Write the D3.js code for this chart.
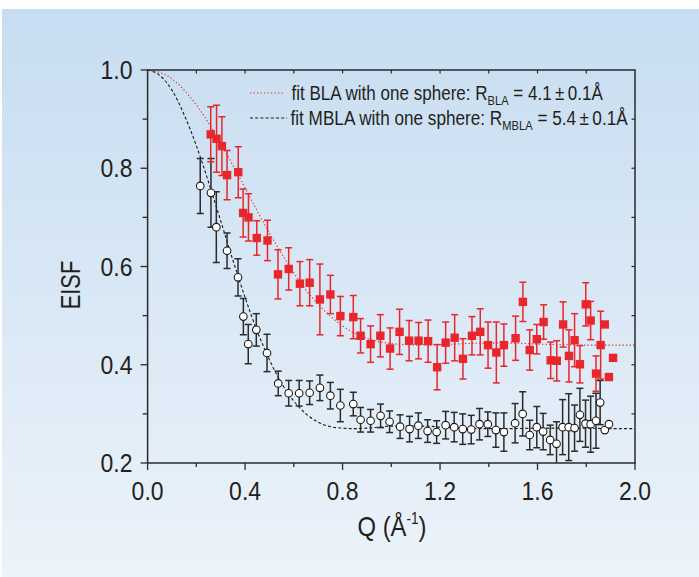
<!DOCTYPE html>
<html>
<head>
<meta charset="utf-8">
<script src="https://cdn.jsdelivr.net/npm/d3@7"></script>
<style>
  html, body { margin: 0; padding: 0; background: #ffffff; }
  svg { display: block; }
  text { font-family: "Liberation Sans", Arial, Helvetica, sans-serif; fill: #231f20; }
</style>
</head>
<body>
<svg id="chart" width="699" height="577"></svg>
<script>
// ---------- data ----------
const blaQ   = [0.259,0.283,0.305,0.326,0.372,0.392,0.414,0.448,0.492,0.535,0.579,0.625,0.665,0.707,0.750,0.791,0.844,0.874,0.915,0.955,0.995,1.034,1.073,1.112,1.151,1.188,1.223,1.260,1.294,1.331,1.365,1.397,1.431,1.462,1.510,1.540,1.568,1.597,1.625,1.654,1.679,1.705,1.729,1.752,1.774,1.798,1.818,1.840,1.859,1.876,1.893,1.910];
const blaE   = [0.869,0.860,0.845,0.786,0.792,0.709,0.700,0.658,0.653,0.584,0.595,0.565,0.567,0.533,0.543,0.499,0.497,0.459,0.442,0.459,0.433,0.467,0.449,0.449,0.448,0.395,0.445,0.455,0.412,0.459,0.467,0.440,0.425,0.440,0.454,0.528,0.430,0.452,0.487,0.409,0.408,0.482,0.418,0.450,0.401,0.523,0.490,0.382,0.440,0.482,0.375,0.414];
const blaErr = [0.056,0.068,0.060,0.050,0.052,0.049,0.048,0.035,0.041,0.050,0.043,0.045,0.047,0.072,0.039,0.040,0.044,0.035,0.037,0.043,0.042,0.046,0.041,0.037,0.043,0.046,0.042,0.047,0.041,0.039,0.047,0.047,0.062,0.043,0.045,0.040,0.041,0.030,0.035,0.037,0.041,0.046,0.053,0.054,0.038,0.044,0.039,0.036,0.069,0,0,0];

const mblaQ   = [0.216,0.260,0.282,0.326,0.371,0.393,0.413,0.446,0.490,0.536,0.579,0.622,0.665,0.707,0.750,0.791,0.844,0.874,0.915,0.956,0.993,1.036,1.075,1.111,1.149,1.186,1.223,1.258,1.293,1.328,1.362,1.396,1.429,1.462,1.508,1.539,1.568,1.597,1.623,1.652,1.678,1.703,1.728,1.752,1.774,1.797,1.818,1.840,1.857,1.876,1.893];
const mblaE   = [0.764,0.750,0.680,0.632,0.578,0.498,0.442,0.471,0.424,0.362,0.342,0.342,0.343,0.353,0.337,0.317,0.320,0.288,0.286,0.296,0.284,0.274,0.269,0.276,0.265,0.263,0.277,0.273,0.269,0.268,0.279,0.279,0.267,0.263,0.281,0.300,0.257,0.273,0.264,0.247,0.239,0.273,0.273,0.271,0.298,0.280,0.279,0.286,0.323,0.267,0.279];
const mblaErr = [0.056,0.070,0.072,0.036,0.038,0.037,0.040,0.033,0.038,0.025,0.026,0.026,0.024,0.026,0.027,0.033,0.024,0.025,0.023,0.024,0.022,0.024,0.026,0.026,0.023,0.023,0.028,0.030,0.031,0.029,0.032,0.025,0.035,0.039,0.040,0.045,0.030,0.042,0.037,0.030,0.045,0.056,0.068,0.047,0.054,0.048,0.057,0.056,0.045,0,0];

// fitted one-sphere curves
const fitQ    = [0,0.05,0.1,0.15,0.2,0.25,0.3,0.35,0.4,0.45,0.5,0.55,0.6,0.65,0.7,0.75,0.8,0.85,0.9,0.95,1.0,1.05,1.1,1.15,1.2,1.3,1.4,1.5,1.6,1.7,1.8,1.9,2.0];
const fitBLA  = [1.0,0.995,0.982,0.959,0.929,0.892,0.851,0.806,0.760,0.713,0.668,0.626,0.587,0.552,0.523,0.499,0.479,0.464,0.454,0.447,0.443,0.441,0.440,0.441,0.441,0.443,0.444,0.444,0.442,0.441,0.440,0.440,0.440];
const fitMBLA = [1.0,0.989,0.959,0.909,0.846,0.772,0.693,0.613,0.537,0.468,0.410,0.362,0.326,0.300,0.283,0.274,0.271,0.270,0.271,0.273,0.275,0.275,0.275,0.275,0.273,0.271,0.270,0.270,0.271,0.271,0.271,0.270,0.270];

const xTicks = [0.0,0.4,0.8,1.2,1.6,2.0];
const yTicks = [0.2,0.4,0.6,0.8,1.0];

// ---------- layout ----------
const svg = d3.select("#chart");
const W = 699, H = 577;
const L = 147.6, R = 635, T = 70, B = 463;
const x = d3.scaleLinear().domain([0, 2]).range([L, R]);
const y = d3.scaleLinear().domain([0.2, 1.0]).range([B, T]);

const defs = svg.append("defs");
const grad = defs.append("linearGradient").attr("id", "bg").attr("x1", 0).attr("y1", 0).attr("x2", 0).attr("y2", 1);
grad.append("stop").attr("offset", "0%").attr("stop-color", "#c7ddf1");
grad.append("stop").attr("offset", "55%").attr("stop-color", "#dbe9f6");
grad.append("stop").attr("offset", "100%").attr("stop-color", "#ecf3fa");
defs.append("clipPath").attr("id", "plotClip").append("rect")
  .attr("x", L).attr("y", T).attr("width", R - L).attr("height", B - T);

svg.append("rect").attr("x", 0).attr("y", 0).attr("width", W).attr("height", H).attr("fill", "#ffffff");
svg.append("rect").attr("x", 2).attr("y", 9).attr("width", W - 2).attr("height", H - 9).attr("fill", "url(#bg)");

const axisColor = "#2a2a2a";
const red = "#e8262b";
const dark = "#2b2b2b";

// helper: horizontally condense a text group to a target ink width
function fitGroup(g, tx, ty, targetW) {
  const bb = g.node().getBBox();
  const s = bb.width > 0 ? targetW / bb.width : 1;
  g.attr("transform", `translate(${tx},${ty}) scale(${s},1)`);
}

// ---------- fit curves ----------
const clipG = svg.append("g").attr("clip-path", "url(#plotClip)");
const line = d3.line().x((d, i) => x(fitQ[i])).y(d => y(d)).curve(d3.curveMonotoneX);
clipG.append("path").datum(fitBLA).attr("d", line).attr("fill", "none")
  .attr("stroke", red).attr("stroke-width", 1.1).attr("stroke-dasharray", "1.3,2.2");
clipG.append("path").datum(fitMBLA).attr("d", line).attr("fill", "none")
  .attr("stroke", "#1a1a1a").attr("stroke-width", 1.1).attr("stroke-dasharray", "3,2.2");

// ---------- error bars ----------
function errorBars(qs, es, errs, color) {
  const g = clipG.append("g").attr("stroke", color).attr("stroke-width", 1.5).attr("fill", "none");
  qs.forEach((q, i) => {
    if (!errs[i]) return;
    const cx = x(q), y1 = y(es[i] + errs[i]), y2 = y(es[i] - errs[i]);
    g.append("line").attr("x1", cx).attr("x2", cx).attr("y1", y1).attr("y2", y2);
    g.append("line").attr("x1", cx - 3.5).attr("x2", cx + 3.5).attr("y1", y1).attr("y2", y1);
    g.append("line").attr("x1", cx - 3.5).attr("x2", cx + 3.5).attr("y1", y2).attr("y2", y2);
  });
}
errorBars(mblaQ, mblaE, mblaErr, dark);
errorBars(blaQ, blaE, blaErr, red);

// ---------- markers ----------
svg.append("g").selectAll("rect").data(blaQ).join("rect")
  .attr("x", (d) => x(d) - 4.2).attr("y", (d, i) => y(blaE[i]) - 4.2)
  .attr("width", 8.4).attr("height", 8.4).attr("fill", red);
svg.append("g").selectAll("circle").data(mblaQ).join("circle")
  .attr("cx", d => x(d)).attr("cy", (d, i) => y(mblaE[i])).attr("r", 3.8)
  .attr("fill", "#ffffff").attr("stroke", "#1a1a1a").attr("stroke-width", 1.1);

// ---------- frame and ticks ----------
const frame = svg.append("g").attr("stroke", axisColor).attr("fill", "none");
frame.append("rect").attr("x", L).attr("y", T).attr("width", R - L).attr("height", B - T).attr("stroke-width", 1.5);

const xAll = d3.range(0, 2.0001, 0.2);
xAll.forEach((v, i) => {
  const major = i % 2 === 0;
  frame.append("line").attr("x1", x(v)).attr("x2", x(v)).attr("y1", B).attr("y2", B + (major ? 7 : 4)).attr("stroke-width", 1.3);
  if (i > 0 && i < xAll.length - 1)
    frame.append("line").attr("x1", x(v)).attr("x2", x(v)).attr("y1", T).attr("y2", T + 3.5).attr("stroke-width", 1.2);
});
const yAll = d3.range(0.2, 1.0001, 0.1);
yAll.forEach((v, i) => {
  const major = i % 2 === 0;
  frame.append("line").attr("x1", L).attr("x2", L - (major ? 7 : 5)).attr("y1", y(v)).attr("y2", y(v)).attr("stroke-width", 1.3);
  if (i > 0 && i < yAll.length - 1)
    frame.append("line").attr("x1", R).attr("x2", R - 3.5).attr("y1", y(v)).attr("y2", y(v)).attr("stroke-width", 1.2);
});

// tick labels (slightly condensed, tall digits)
xTicks.forEach(d => {
  const g = svg.append("g");
  g.append("text").attr("x", 0).attr("y", 0).attr("text-anchor", "middle")
    .attr("font-size", 25).text(d.toFixed(1));
  g.attr("transform", `translate(${x(d)},499.5) scale(0.92,1)`);
});
yTicks.forEach(d => {
  const g = svg.append("g");
  g.append("text").attr("x", 0).attr("y", 0).attr("text-anchor", "end")
    .attr("font-size", 25).text(d.toFixed(1));
  g.attr("transform", `translate(132.5,${y(d) + 9}) scale(0.92,1)`);
});

// axis titles
const ey = svg.append("g");
ey.append("text").attr("x", 0).attr("y", 0).attr("text-anchor", "middle").attr("font-size", 28).text("EISF");
ey.attr("transform", "translate(80,285) rotate(-90) scale(0.78,1)");

const xtg = svg.append("g");
const xt = xtg.append("text").attr("x", 0).attr("y", 0).attr("text-anchor", "middle").attr("font-size", 28);
xt.append("tspan").text("Q (Å");
xt.append("tspan").attr("font-size", 16).attr("dy", -12).text("-1");
xt.append("tspan").attr("dy", 12).text(")");
xtg.attr("transform", "translate(392,536) scale(0.85,1)");

// ---------- legend ----------
svg.append("line").attr("x1", 250).attr("x2", 285).attr("y1", 93).attr("y2", 93)
  .attr("stroke", red).attr("stroke-width", 1.1).attr("stroke-dasharray", "1.3,2.2");
svg.append("line").attr("x1", 250).attr("x2", 287).attr("y1", 118).attr("y2", 118)
  .attr("stroke", "#1a1a1a").attr("stroke-width", 1.1).attr("stroke-dasharray", "3,2.2");

const g1 = svg.append("g");
const lg1 = g1.append("text").attr("x", 0).attr("y", 0).attr("font-size", 20);
lg1.append("tspan").text("fit BLA with one sphere: R");
lg1.append("tspan").attr("font-size", 13).attr("dy", 5).text("BLA");
lg1.append("tspan").attr("dy", -5).text(" = 4.1\u2009\u00B1\u20090.1Å");
fitGroup(g1, 291.5, 99.5, 312);

const g2 = svg.append("g");
const lg2 = g2.append("text").attr("x", 0).attr("y", 0).attr("font-size", 20);
lg2.append("tspan").text("fit MBLA with one sphere: R");
lg2.append("tspan").attr("font-size", 13).attr("dy", 5).text("MBLA");
lg2.append("tspan").attr("dy", -5).text(" = 5.4\u2009\u00B1\u20090.1Å");
fitGroup(g2, 290.5, 125, 338);
</script>
</body>
</html>
